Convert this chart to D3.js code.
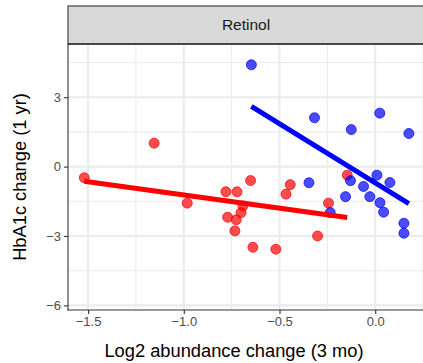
<!DOCTYPE html>
<html>
<head>
<meta charset="utf-8">
<script src="https://cdn.jsdelivr.net/npm/d3@7"></script>
<style>
  body { margin: 0; background: #fff; }
  text { font-family: "Liberation Sans", Arial, sans-serif; }
</style>
</head>
<body>
<div id="chart"></div>
<script>
var facetLabel = 'Retinol'

// group measured at 3 mo (red) and the other group (blue)
var redX = [-1.52, -1.155, -0.982, -0.651, -0.780, -0.722, -0.444, -0.466, -0.691,
            -0.701, -0.771, -0.726, -0.733, -0.639, -0.519, -0.301, -0.244, -0.146]
var redY = [-0.48, 1.01, -1.58, -0.605, -1.09, -1.09, -0.78, -1.19, -1.70,
            -1.99, -2.19, -2.30, -2.78, -3.49, -3.57, -3.0, -1.58, -0.37]

var blueX = [-0.647, -0.317, -0.125, 0.024, 0.176, -0.346, -0.129, -0.155, -0.061,
             -0.028, 0.009, 0.077, 0.025, 0.044, 0.150, 0.150, -0.235]
var blueY = [4.40, 2.11, 1.60, 2.31, 1.43, -0.70, -0.61, -1.30, -0.86,
             -1.30, -0.37, -0.69, -1.56, -1.97, -2.45, -2.88, -1.99]

var xTicks = [-1.5, -1.0, -0.5, 0.0]
var xMinor = [-1.25, -0.75, -0.25, 0.25]
var yTicks = [-6, -3, 0, 3]
var yMinor = [-4.5, -1.5, 1.5, 4.5]

var width = 423,
    height = 363,
    pLeft = 68,
    pRight = 424,
    pTop = 44,
    pBottom = 310

var x = d3.scaleLinear().domain([-1.605, 0.255]).range([pLeft, pRight])
var y = d3.scaleLinear().domain([-6.2, 5.3]).range([pBottom, pTop])

var svg = d3.select('#chart').append('svg')
    .attr('width', width)
    .attr('height', height)

// grid
var grid = svg.append('g')
grid.selectAll('line.xminor').data(xMinor).enter().append('line')
    .attr('x1', d => x(d)).attr('x2', d => x(d))
    .attr('y1', pTop).attr('y2', pBottom)
    .attr('stroke', '#ebebeb').attr('stroke-width', 1.1)
grid.selectAll('line.yminor').data(yMinor).enter().append('line')
    .attr('x1', pLeft).attr('x2', pRight)
    .attr('y1', d => y(d)).attr('y2', d => y(d))
    .attr('stroke', '#ebebeb').attr('stroke-width', 1.1)
grid.selectAll('line.xmajor').data(xTicks).enter().append('line')
    .attr('x1', d => x(d)).attr('x2', d => x(d))
    .attr('y1', pTop).attr('y2', pBottom)
    .attr('stroke', '#ebebeb').attr('stroke-width', 2.1)
grid.selectAll('line.ymajor').data(yTicks).enter().append('line')
    .attr('x1', pLeft).attr('x2', pRight)
    .attr('y1', d => y(d)).attr('y2', d => y(d))
    .attr('stroke', '#ebebeb').attr('stroke-width', 2.1)

// least squares line for one group
function fit(xs, ys) {
    var mx = d3.mean(xs), my = d3.mean(ys)
    var sxy = d3.sum(xs, (v, i) => (v - mx) * (ys[i] - my))
    var sxx = d3.sum(xs, v => (v - mx) * (v - mx))
    var b = sxy / sxx, a = my - b * mx
    var ext = d3.extent(xs)
    return ext.map(v => [v, a + b * v])
}

var groups = [
    { xs: redX, ys: redY, color: '#ff0000' },
    { xs: blueX, ys: blueY, color: '#0000ff' }
]

var plot = svg.append('g')

groups.forEach(function(g) {
    plot.append('g').selectAll('circle')
        .data(g.xs.map((v, i) => [v, g.ys[i]]))
        .enter().append('circle')
            .attr('cx', d => x(d[0]))
            .attr('cy', d => y(d[1]))
            .attr('r', 5)
            .attr('fill', g.color)
            .attr('fill-opacity', 0.7)
            .attr('stroke', g.color)
            .attr('stroke-opacity', 0.7)
            .attr('stroke-width', 1)
})

var line = d3.line().x(d => x(d[0])).y(d => y(d[1]))
groups.forEach(function(g) {
    plot.append('path')
        .attr('d', line(fit(g.xs, g.ys)))
        .attr('fill', 'none')
        .attr('stroke', g.color)
        .attr('stroke-width', 5)
})

// strip
svg.append('rect')
    .attr('x', pLeft).attr('y', 6)
    .attr('width', pRight - pLeft).attr('height', pTop - 6)
    .attr('fill', '#d9d9d9')
    .attr('stroke', '#333333').attr('stroke-width', 1.1)
svg.append('line')
    .attr('x1', pLeft).attr('x2', pRight)
    .attr('y1', pTop).attr('y2', pTop)
    .attr('stroke', '#333333').attr('stroke-width', 1.6)
svg.append('text')
    .attr('x', (pLeft + pRight) / 2).attr('y', 30)
    .attr('text-anchor', 'middle')
    .attr('font-size', 15.5)
    .attr('fill', '#1a1a1a')
    .text(facetLabel)

// axes
var fmtX = d => d3.format('.1f')(d).replace('-', '\u2212')
var fmtY = d => String(d).replace('-', '\u2212')

var xAxis = svg.append('g')
    .attr('transform', 'translate(0,' + pBottom + ')')
    .call(d3.axisBottom(x).tickValues(xTicks).tickFormat(fmtX).tickSize(4).tickPadding(3))
var yAxis = svg.append('g')
    .attr('transform', 'translate(' + pLeft + ',0)')
    .call(d3.axisLeft(y).tickValues(yTicks).tickFormat(fmtY).tickSize(4).tickPadding(3))

;[xAxis, yAxis].forEach(function(a) {
    a.select('.domain').remove()
    a.selectAll('.tick line').attr('stroke', '#333333').attr('stroke-width', 1.1)
    a.selectAll('.tick text')
        .attr('fill', '#4d4d4d')
        .attr('font-size', 13)
        .attr('font-family', '"Liberation Sans", Arial, sans-serif')
})

svg.append('line')
    .attr('x1', pLeft).attr('x2', pLeft)
    .attr('y1', pTop).attr('y2', pBottom + 0.5)
    .attr('stroke', '#333333').attr('stroke-width', 1.1)
svg.append('line')
    .attr('x1', pLeft - 0.5).attr('x2', pRight)
    .attr('y1', pBottom).attr('y2', pBottom)
    .attr('stroke', '#333333').attr('stroke-width', 1.1)

// titles
svg.append('text')
    .attr('x', 234).attr('y', 357)
    .attr('text-anchor', 'middle')
    .attr('font-size', 18.3)
    .attr('fill', '#000')
    .text('Log2 abundance change (3 mo)')
svg.append('text')
    .attr('transform', 'translate(26,177) rotate(-90)')
    .attr('text-anchor', 'middle')
    .attr('font-size', 18.3)
    .attr('fill', '#000')
    .text('HbA1c change (1 yr)')
</script>
</body>
</html>
